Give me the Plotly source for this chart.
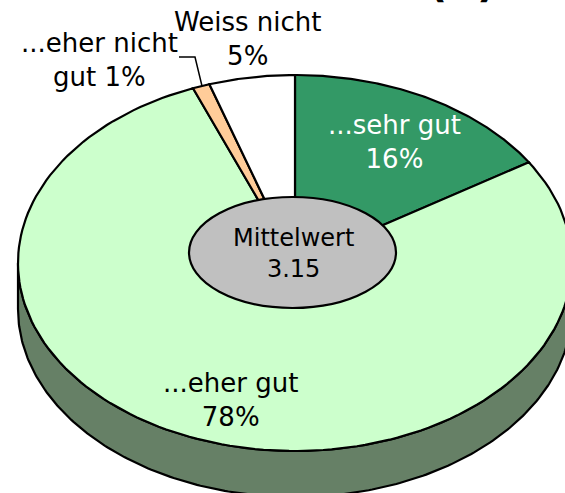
import numpy as np
import plotly.graph_objects as go

labels = ["...sehr gut", "...eher gut", "...eher nicht gut", "Weiss nicht"]
values = [16, 78, 1, 5]
mean_label = "Mittelwert"
mean_value = "3.15"
colors = ["#339966", "#CCFFCC", "#FFCC99", "#FFFFFF"]
side_color = "#668066"
title_tail = ["y", "(n)"]

W, H = 565, 493
CX, CY, RX, RY, DEPTH = 295, 263, 277, 188, 46
FONT = "DejaVu Sans"
SIZE = 26


def rim(a0, a1, n=160):
    t = np.radians(np.linspace(a0, a1, n))
    return CX + RX * np.sin(t), CY - RY * np.cos(t)


fig = go.Figure()
# side wall (lower half of the rim, extruded)
xb, yb = rim(90, 270, 240)
fig.add_trace(go.Scatter(
    x=np.r_[xb, xb[::-1], xb[0]], y=np.r_[yb, yb[::-1] + DEPTH, yb[0]],
    mode="lines", fill="toself", fillcolor=side_color,
    line=dict(color="black", width=2.2), hoverinfo="skip"))

total = sum(values)
start = 0.0
for v, c in zip(values, colors):
    end = start + 360 * v / total
    x, y = rim(start, end)
    fig.add_trace(go.Scatter(
        x=np.r_[CX, x, CX], y=np.r_[CY, y, CY],
        mode="lines", fill="toself", fillcolor=c,
        line=dict(color="black", width=2.2), hoverinfo="skip"))
    start = end

shapes = [
    dict(type="circle", xref="x", yref="y", x0=189, x1=396, y0=197, y1=308,
         fillcolor="#C0C0C0", line=dict(color="black", width=2.2)),
    dict(type="path", xref="x", yref="y", path="M 179 57 L 195 57 L 202 86",
         line=dict(color="black", width=1.5)),
]


def note(x, y, text, color="black", size=SIZE, **kw):
    return dict(x=x, y=y, xref="x", yref="y", text=text, showarrow=False,
                font=dict(family=FONT, size=size, color=color),
                xanchor="center", yanchor="middle", **kw)


def clipped(x, y_px, text, size):
    return dict(x=x / W, y=1 - y_px / H, xref="paper", yref="paper",
                text=f"<b>{text}</b>", showarrow=False,
                font=dict(family=FONT, size=size, color="black"),
                xanchor="center", yanchor="middle")


annotations = [
    note(394, 142, f"{labels[0]}<br>{values[0]}%", "white"),
    note(230, 400, f"{labels[1]}<br>{values[1]}%"),
    note(99, 60, f"...eher nicht<br>gut {values[2]}%"),
    note(247, 39, f"{labels[3]}<br>{values[3]}%"),
    note(293, 253, f"{mean_label}<br>{mean_value}", size=24),
    clipped(308, -23, title_tail[0], 42),
    clipped(462, -18, title_tail[1], 42),
]

fig.update_layout(
    width=W, height=H, margin=dict(l=0, r=0, t=0, b=0),
    paper_bgcolor="white", plot_bgcolor="white", showlegend=False,
    xaxis=dict(range=[0, W], visible=False, fixedrange=True),
    yaxis=dict(range=[H, 0], visible=False, fixedrange=True),
    shapes=shapes, annotations=annotations,
)
fig.write_html("out.html", config={"displayModeBar": False},
               post_script="document.body.style.margin='0';document.body.style.overflow='hidden';")
